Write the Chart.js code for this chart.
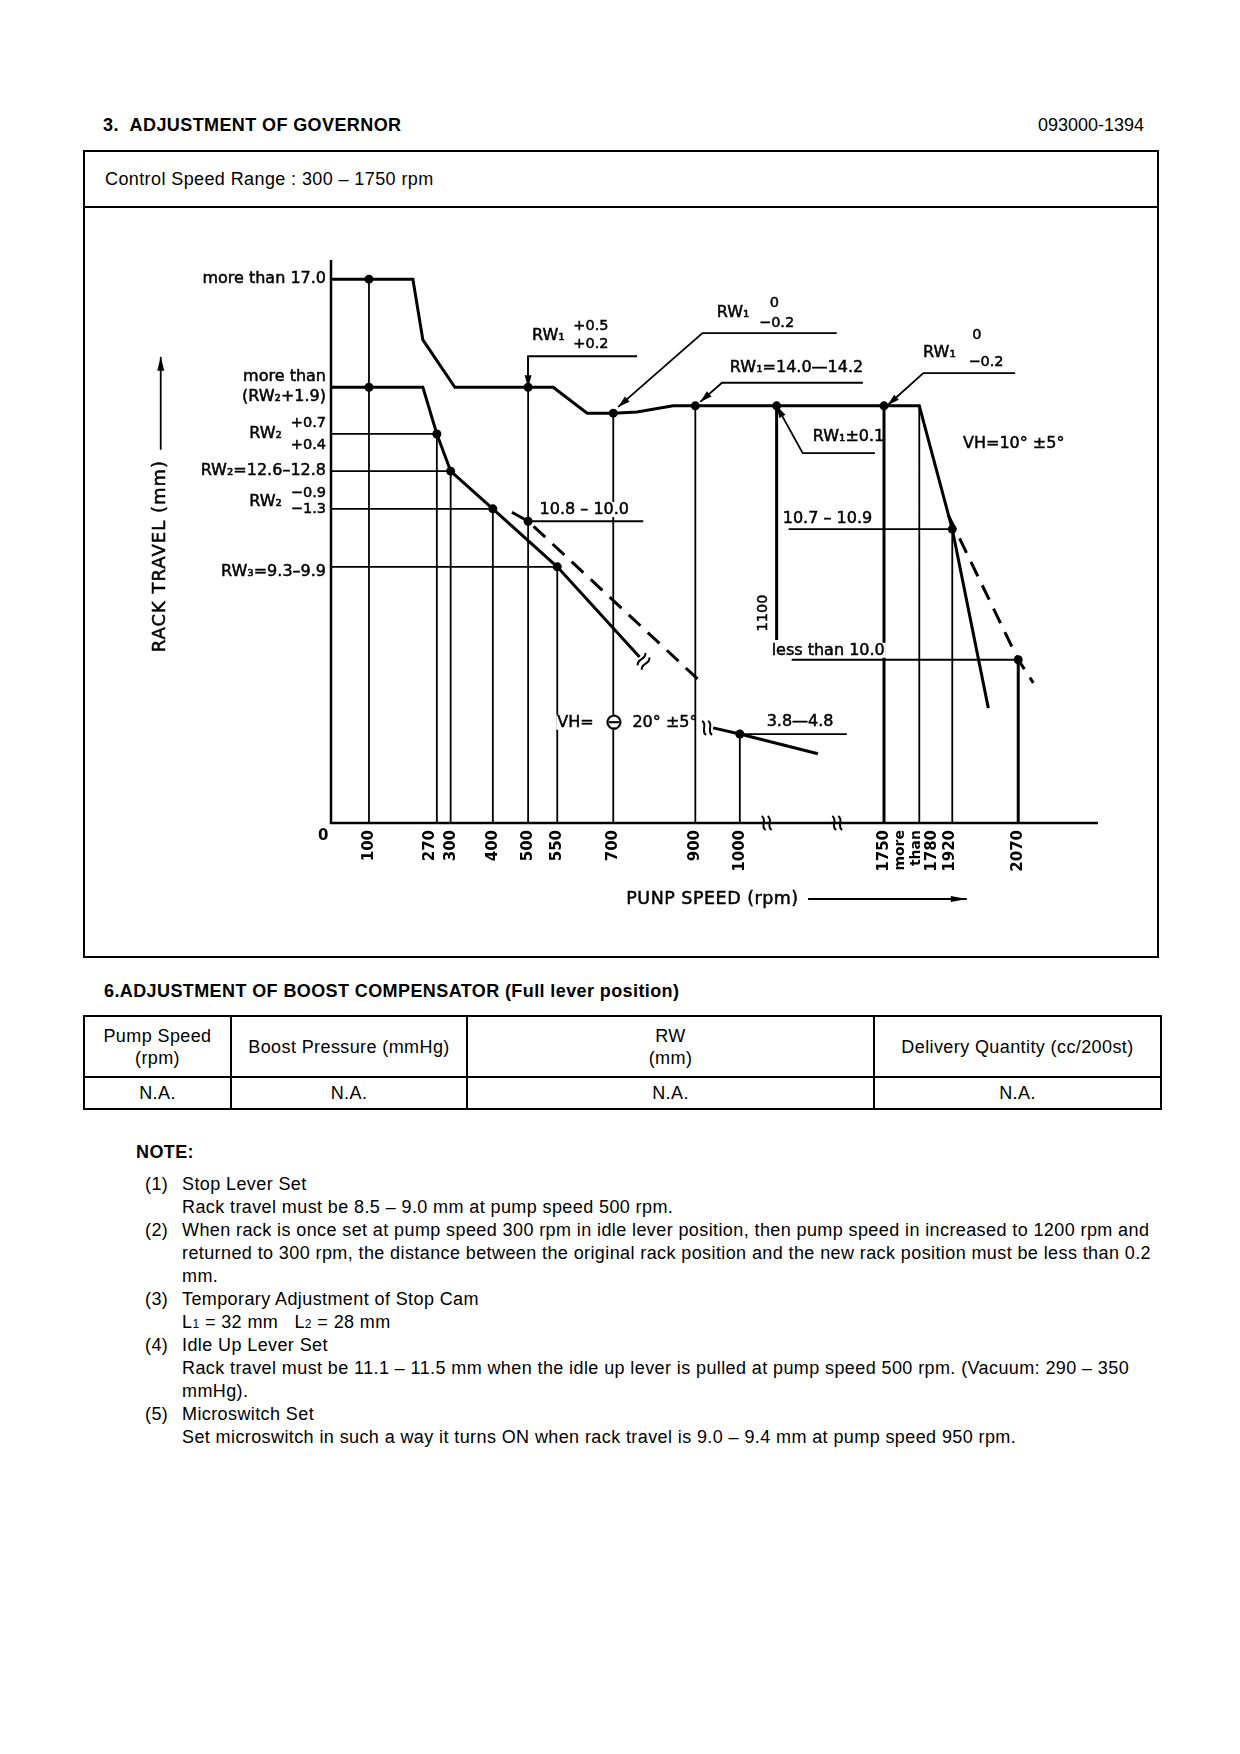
<!DOCTYPE html>
<html>
<head>
<meta charset="utf-8">
<script src="https://cdn.jsdelivr.net/npm/chart.js@4"></script>
<style>
body { margin: 0; background: #fff; width: 1240px; height: 1754px; position: relative; font-family: "Liberation Sans", Arial, sans-serif; color: #000; }
.t { position: absolute; white-space: nowrap; line-height: 20px; font-size: 18px; letter-spacing: 0.4px; }
.b { font-weight: bold; }
#box { position: absolute; left: 83px; top: 150px; width: 1072px; height: 804px; border: 2px solid #000; }
#divider { position: absolute; left: 83px; top: 206px; width: 1076px; height: 2px; background: #000; }
#chart { position: absolute; left: 84px; top: 208px; }
table { position: absolute; left: 83px; top: 1015px; width: 1077px; border-collapse: collapse; table-layout: fixed; font-size: 18px; letter-spacing: 0.4px; }
td { border: 2px solid #000; text-align: center; padding: 0; line-height: 22px; }
.notes { position: absolute; top: 1173px; left: 0; font-size: 18px; line-height: 23px; letter-spacing: 0.4px; }
.notes div { position: relative; height: 23px; white-space: nowrap; }
.notes span.n { position: absolute; left: 145px; }
.notes span.x { position: absolute; left: 182px; }
.sm { font-size: 12px; }
</style>
</head>
<body>

<div class="t b" style="left:103px; top:115px;">3.&nbsp;&nbsp;ADJUSTMENT OF GOVERNOR</div>
<div class="t" style="right:96px; top:115px; letter-spacing:0;">093000-1394</div>

<div id="box"></div>
<div id="divider"></div>
<div class="t" style="left:105px; top:169px;">Control Speed Range : 300 – 1750 rpm</div>

<canvas id="chart" width="1074" height="748"></canvas>

<div class="t b" style="left:104px; top:981px;">6.ADJUSTMENT OF BOOST COMPENSATOR (Full lever position)</div>

<table>
  <colgroup><col style="width:147px"><col style="width:236px"><col style="width:407px"><col style="width:287px"></colgroup>
  <tr style="height:61px"><td>Pump Speed<br>(rpm)</td><td>Boost Pressure (mmHg)</td><td>RW<br>(mm)</td><td>Delivery Quantity (cc/200st)</td></tr>
  <tr style="height:32px"><td>N.A.</td><td>N.A.</td><td>N.A.</td><td>N.A.</td></tr>
</table>

<div class="t b" style="left:136px; top:1142px;">NOTE:</div>
<div class="notes">
  <div><span class="n">(1)</span><span class="x">Stop Lever Set</span></div>
  <div><span class="x">Rack travel must be 8.5 – 9.0 mm at pump speed 500 rpm.</span></div>
  <div><span class="n">(2)</span><span class="x">When rack is once set at pump speed 300 rpm in idle lever position, then pump speed in increased to 1200 rpm and</span></div>
  <div><span class="x">returned to 300 rpm, the distance between the original rack position and the new rack position must be less than 0.2</span></div>
  <div><span class="x">mm.</span></div>
  <div><span class="n">(3)</span><span class="x">Temporary Adjustment of Stop Cam</span></div>
  <div><span class="x">L<span class="sm">1</span> = 32 mm&nbsp;&nbsp;&nbsp;L<span class="sm">2</span> = 28 mm</span></div>
  <div><span class="n">(4)</span><span class="x">Idle Up Lever Set</span></div>
  <div><span class="x">Rack travel must be 11.1 – 11.5 mm when the idle up lever is pulled at pump speed 500 rpm. (Vacuum: 290 – 350</span></div>
  <div><span class="x">mmHg).</span></div>
  <div><span class="n">(5)</span><span class="x">Microswitch Set</span></div>
  <div><span class="x">Set microswitch in such a way it turns ON when rack travel is 9.0 – 9.4 mm at pump speed 950 rpm.</span></div>
</div>

<script>
// pump speed axis is a schematic, broken axis: each tick speed and where it sits along it (0-100)
const speedTicks   = [0, 100, 270, 300, 400, 500, 550, 700, 900, 1000, 1100, 1750, 1780, 1920, 2070, 2250]
const speedTickPos = [0, 4.95, 13.8, 15.6, 21.1, 25.7, 29.5, 36.8, 47.5, 53.3, 58.1, 72.1, 76.7, 81.0, 89.6, 100]
const axisBreaks   = [56.8, 66.0]

// rack travel is not to scale either: heights are read off the drawing (0 = axis, 100 = top)
// full load / governor curve
const fullRpm  = [0, 210, 235, 310, 500, 543, 630, 700, 758, 846, 900, 1100, 1750, 1780, 1920, 2002]
const fullRack = [96.6, 96.6, 85.8, 77.4, 77.4, 77.4, 72.8, 72.8, 73.0, 74.1, 74.1, 74.1, 74.1, 74.1, 52.2, 20.4]
// idle curve
const idleRpm  = [0, 235, 270, 300, 400, 550, 764]
const idleRack = [77.4, 77.4, 69.1, 62.5, 55.8, 45.5, 29.5]
// dashed curves
const dashRpm  = [454, 500, 920]
const dashRack = [55.2, 53.6, 24.5]
const dash2Rpm  = [1903, 2070, 2104]
const dash2Rack = [54.7, 29.0, 24.9]
// VH = -20 deg curve
const lowRpm  = [940, 1000, 1350]
const lowRack = [16.9, 15.8, 12.3]

// measuring points
const pointRpm  = [100, 100, 270, 300, 400, 500, 500, 550, 700, 900, 1100, 1750, 1920, 2070, 1000]
const pointRack = [96.6, 77.4, 69.1, 62.5, 55.8, 77.4, 53.6, 45.5, 72.8, 74.1, 74.1, 74.1, 52.2, 29.0, 15.8]

// guide lines down to the speed axis
const vGuideRpm = [100, 270, 300, 400, 500, 550, 700, 900, 1000, 1780, 1920]
const vGuideTop = [96.6, 69.1, 62.5, 55.8, 82.9, 45.5, 72.8, 74.1, 15.8, 74.1, 52.2]
const vBoldRpm  = [1750, 2070, 1100]
const vBoldTop  = [74.1, 29.0, 74.1]
const vBoldBot  = [0, 0, 32.5]
// guide lines across
const hGuideRack = [69.1, 62.5, 55.8, 45.5, 53.6, 52.2, 29.0, 15.8]
const hGuideFrom = [0, 0, 0, 0, 500, 1173, 1191, 1000]
const hGuideTo   = [270, 300, 400, 550, 773, 1920, 2070, 1525]

// leader lines (rpm, rack), arrow at last point
const leaders = [
  [[758, 82.9], [500, 82.9], [500, 77.4]],
  [[1464, 87.0], [916, 87.0], [712, 73.9]],
  [[1622, 78.2], [960, 78.2], [911, 74.8]],
  [[1695, 65.7], [1258, 65.7], [1100, 74.1]],
  [[2063, 79.9], [1797, 79.9], [1753, 74.2]]
]

const tickLabels = ['100', '270', '300', '400', '500', '550', '700', '900', '1000', '1750', '1920', '2070']

function toPos(rpm) {
  for (let i = 1; i < speedTicks.length; i++) {
    if (rpm <= speedTicks[i]) {
      let a = speedTicks[i - 1], b = speedTicks[i]
      return speedTickPos[i - 1] + (rpm - a) / (b - a) * (speedTickPos[i] - speedTickPos[i - 1])
    }
  }
  return 100
}

function pts(rpms, racks) {
  return rpms.map((r, i) => ({ x: toPos(r), y: racks[i] }))
}

function vSegs(rpms, tops, bots) {
  let out = []
  rpms.forEach((r, i) => {
    out.push({ x: toPos(r), y: tops[i] }, { x: toPos(r), y: bots ? bots[i] : 0 }, { x: toPos(r), y: null })
  })
  return out
}

let hSegs = []
hGuideRack.forEach((lv, i) => {
  hSegs.push({ x: toPos(hGuideFrom[i]), y: lv }, { x: toPos(hGuideTo[i]), y: lv }, { x: toPos(hGuideTo[i]), y: null })
})

function lineSet(data, width, dash) {
  return { type: 'line', data: data, borderColor: '#000', borderWidth: width, borderDash: dash || [],
           pointRadius: 0, fill: false, tension: 0, spanGaps: false, clip: false }
}

// text labels: [text, x pos (0-100), rack height, align, font, white background]
const F = '16px "DejaVu Sans"'
const FS = '14.5px "DejaVu Sans"'
const texts = [
  ['more than 17.0', -0.65, 96.6, 'right', F],
  ['more than', -0.65, 79.2, 'right', F],
  ['(RW₂+1.9)', -0.65, 75.7, 'right', F],
  ['RW₂', -6.4, 69.1, 'right', F],
  ['+0.7', -0.65, 71.0, 'right', FS],
  ['+0.4', -0.65, 67.1, 'right', FS],
  ['RW₂=12.6–12.8', -0.65, 62.5, 'right', F],
  ['RW₂', -6.4, 57.0, 'right', F],
  ['−0.9', -0.65, 58.5, 'right', FS],
  ['−1.3', -0.65, 55.7, 'right', FS],
  ['RW₃=9.3–9.9', -0.65, 44.6, 'right', F],
  ['RW₁', 26.2, 86.5, 'left', F],
  ['+0.5', 31.6, 88.3, 'left', FS],
  ['+0.2', 31.6, 85.1, 'left', FS],
  ['RW₁', 50.3, 90.6, 'left', F],
  ['0', 57.8, 92.4, 'center', FS],
  ['−0.2', 55.8, 88.8, 'left', FS],
  ['RW₁=14.0—14.2', 52.0, 80.8, 'left', F],
  ['RW₁±0.1', 62.8, 68.6, 'left', F],
  ['RW₁', 77.2, 83.5, 'left', F],
  ['0', 84.2, 86.6, 'center', FS],
  ['−0.2', 83.1, 81.9, 'left', FS],
  ['VH=10° ±5°', 82.4, 67.3, 'left', F],
  ['10.8 – 10.0', 27.2, 55.6, 'left', F, true],
  ['10.7 – 10.9', 58.9, 54.0, 'left', F, true],
  ['less than 10.0', 72.2, 30.6, 'right', F, true],
  ['VH=', 29.5, 17.8, 'left', F, true],
  ['⊖', 36.9, 17.8, 'center', '22px "DejaVu Sans"', true],
  ['20° ±5°', 39.3, 17.8, 'left', F],
  ['3.8—4.8', 56.8, 17.9, 'left', F]
]

function breakMark(ctx, x, y, ang) {
  ctx.save()
  ctx.translate(x, y)
  ctx.rotate(ang)
  ctx.lineWidth = 2
  for (let dx of [-3, 3]) {
    ctx.beginPath()
    ctx.moveTo(dx - 2, -7)
    ctx.bezierCurveTo(dx + 4, -3, dx - 4, 3, dx + 2, 7)
    ctx.stroke()
  }
  ctx.restore()
}

function arrowHead(ctx, x0, y0, x1, y1, len, half) {
  let a = Math.atan2(y1 - y0, x1 - x0)
  ctx.beginPath()
  ctx.moveTo(x1, y1)
  ctx.lineTo(x1 - len * Math.cos(a) + half * Math.sin(a), y1 - len * Math.sin(a) - half * Math.cos(a))
  ctx.lineTo(x1 - len * Math.cos(a) - half * Math.sin(a), y1 - len * Math.sin(a) + half * Math.cos(a))
  ctx.closePath()
  ctx.fill()
}

// filled text with a thin outline, the scan looks heavier than plain text
function heavyText(ctx, txt, x, y) {
  ctx.fillText(txt, x, y)
  ctx.lineWidth = 0.5
  ctx.strokeText(txt, x, y)
}

const overlay = {
  id: 'overlay',
  afterDatasetsDraw(chart) {
    const ctx = chart.ctx
    const X = v => chart.scales.x.getPixelForValue(v)
    const Y = v => chart.scales.y.getPixelForValue(v)
    const R = rpm => X(toPos(rpm))
    ctx.save()
    ctx.strokeStyle = '#000'
    ctx.fillStyle = '#000'

    // axes
    ctx.lineWidth = 2.5
    ctx.beginPath()
    ctx.moveTo(X(0), Y(100))
    ctx.lineTo(X(0), Y(0))
    ctx.lineTo(X(100), Y(0))
    ctx.stroke()
    axisBreaks.forEach(b => breakMark(ctx, X(b), Y(0), 0))

    // breaks at curve ends
    let n = idleRpm.length
    let a1 = Math.atan2(Y(idleRack[n - 1]) - Y(idleRack[n - 2]), R(idleRpm[n - 1]) - R(idleRpm[n - 2]))
    breakMark(ctx, R(idleRpm[n - 1]) + 6 * Math.cos(a1), Y(idleRack[n - 1]) + 6 * Math.sin(a1), a1)
    breakMark(ctx, R(lowRpm[0]) - 6, Y(lowRack[0]), 0)

    // leaders
    ctx.lineWidth = 1.8
    leaders.forEach(l => {
      ctx.beginPath()
      l.forEach((p, i) => i ? ctx.lineTo(R(p[0]), Y(p[1])) : ctx.moveTo(R(p[0]), Y(p[1])))
      ctx.stroke()
      let p0 = l[l.length - 2], p1 = l[l.length - 1]
      arrowHead(ctx, R(p0[0]), Y(p0[1]), R(p1[0]), Y(p1[1]), 12, 3.5)
    })

    // labels
    ctx.textBaseline = 'middle'
    texts.forEach(t => {
      ctx.font = t[4]
      ctx.textAlign = t[3]
      let px = X(t[1]), py = Y(t[2])
      if (t[5]) {
        let w = ctx.measureText(t[0]).width
        let left = t[3] === 'left' ? px : t[3] === 'right' ? px - w : px - w / 2
        ctx.fillStyle = '#fff'
        ctx.fillRect(left - 1, py - 8, w + 2, 15)
        ctx.fillStyle = '#000'
      }
      heavyText(ctx, t[0], px, py)
    })

    // 1100 on its dimension line
    ctx.font = FS
    ctx.save()
    ctx.translate(X(56.3), Y(37.3))
    ctx.rotate(-Math.PI / 2)
    ctx.textAlign = 'center'
    heavyText(ctx, '1100', 0, 0)
    ctx.restore()

    // speed tick labels
    ctx.font = 'bold 15px "DejaVu Sans"'
    ctx.textAlign = 'center'
    ctx.fillText('0', X(-1.0), Y(-2.4))
    let top = Y(0) + 7
    let labelRpm = [100, 270, 300, 400, 500, 550, 700, 900, 1000, 1750, 1920, 2070]
    let shift = { 270: -7, 1920: -2 }
    let rot = (txt, x) => {
      ctx.save()
      ctx.translate(x, top)
      ctx.rotate(-Math.PI / 2)
      ctx.textAlign = 'right'
      ctx.fillText(txt, 0, 0)
      ctx.restore()
    }
    tickLabels.forEach((txt, i) => rot(txt, R(labelRpm[i]) + (shift[labelRpm[i]] || 0)))
    ctx.font = 'bold 14px "DejaVu Sans"'
    rot('more', R(1750) + 16)
    rot('than', R(1750) + 32)
    ctx.font = 'bold 15px "DejaVu Sans"'
    rot('1780', R(1750) + 48)

    // axis titles
    ctx.font = '18px "DejaVu Sans"'
    ctx.letterSpacing = '1px'
    ctx.textAlign = 'center'
    ctx.save()
    ctx.translate(X(-22.3), Y(47.4))
    ctx.rotate(-Math.PI / 2)
    heavyText(ctx, 'RACK TRAVEL (mm)', 0, 0)
    ctx.restore()
    ctx.font = '17.5px "DejaVu Sans"'
    ctx.textAlign = 'left'
    ctx.letterSpacing = '0.5px'
    heavyText(ctx, 'PUNP SPEED (rpm)', X(38.5), Y(-13.5))
    ctx.letterSpacing = '0px'
    ctx.lineWidth = 1.8
    ctx.beginPath()
    ctx.moveTo(X(-22.2), Y(66.3))
    ctx.lineTo(X(-22.2), Y(82.8))
    ctx.stroke()
    arrowHead(ctx, X(-22.2), Y(66.3), X(-22.2), Y(82.8), 14, 3.5)
    ctx.beginPath()
    ctx.moveTo(X(62.2), Y(-13.5))
    ctx.lineTo(X(82.9), Y(-13.5))
    ctx.stroke()
    arrowHead(ctx, X(62.2), Y(-13.5), X(82.9), Y(-13.5), 16, 3)
    ctx.restore()
  }
}

new Chart(document.getElementById('chart'), {
  type: 'line',
  data: {
    datasets: [
      lineSet(vSegs(vGuideRpm, vGuideTop), 1.8),
      lineSet(vSegs(vBoldRpm, vBoldTop, vBoldBot), 3),
      lineSet(hSegs, 1.8),
      lineSet(pts(fullRpm, fullRack), 3),
      lineSet(pts(idleRpm, idleRack), 3),
      lineSet(pts(dashRpm, dashRack), 3, [16, 10]),
      lineSet(pts(dash2Rpm, dash2Rack), 3, [16, 10]),
      lineSet(pts(lowRpm, lowRack), 3),
      { type: 'scatter', data: pts(pointRpm, pointRack), pointRadius: 4.5, pointBackgroundColor: '#000',
        pointBorderWidth: 0, clip: false }
    ]
  },
  options: {
    responsive: false,
    animation: false,
    layout: { padding: { left: 247, right: 60, top: 52, bottom: 133 } },
    scales: {
      x: { type: 'linear', min: 0, max: 100, display: false },
      y: { type: 'linear', min: 0, max: 100, display: false }
    },
    plugins: { legend: { display: false }, tooltip: { enabled: false } }
  },
  plugins: [overlay]
})
</script>
</body>
</html>
